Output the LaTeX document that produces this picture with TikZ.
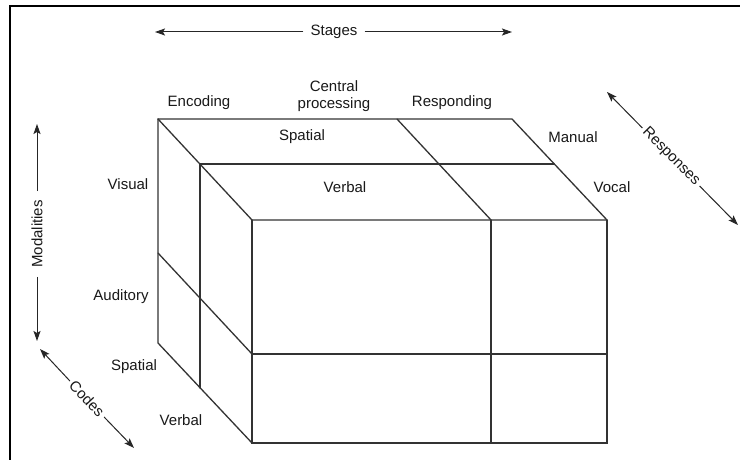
\documentclass[tikz,border=0pt]{standalone}
\usepackage{fontspec}
\setmainfont{Liberation Sans}
\usetikzlibrary{arrows.meta}
\begin{document}
\begin{tikzpicture}[x=1pt,y=-1pt,
  cube/.style={draw=black!80,line width=1.3pt,line cap=round},
  lbl/.style={text=black!90,font=\fontsize{15}{17}\selectfont,inner sep=0pt},
  axis/.style={text=black!90,font=\fontsize{15}{17}\selectfont,inner xsep=7pt,inner ysep=0pt},
  arr/.style={draw=black!85,line width=1pt,-{Stealth[length=10pt,width=7pt,inset=2pt]}},
  frame/.style={draw=black,line width=2pt}]
\useasboundingbox (0,0) rectangle (740,460);
\fill[white] (0,0) rectangle (740,460);
% frame
\coordinate (f1) at (10,460);
\coordinate (f2) at (10,6);
\coordinate (f3) at (741,6);
\draw[frame] (f1) -- (f2) -- (f3);
% cube corners
\coordinate (btl) at (158,119);
\coordinate (btm) at (397,119);
\coordinate (btr) at (512,119);
\coordinate (mtl) at (200,164);
\coordinate (mtr) at (554,164);
\coordinate (ftl) at (252,220);
\coordinate (ftm) at (491,220);
\coordinate (ftr) at (607,220);
\coordinate (bml) at (158,253);
\coordinate (bbl) at (158,343);
\coordinate (mbl) at (200,388);
\coordinate (fml) at (252,354);
\coordinate (fmr) at (607,354);
\coordinate (fbl) at (252,443);
\coordinate (fbm) at (491,443);
\coordinate (fbr) at (607,443);
% top face
\draw[cube] (btl) -- (btr) -- (ftr);
\draw[cube] (mtl) -- (mtr);
\draw[cube] (btl) -- (ftl) -- (ftr);
\draw[cube] (btm) -- (ftm);
% left face
\draw[cube] (btl) -- (bbl) -- (fbl);
\draw[cube] (mtl) -- (mbl);
\draw[cube] (bml) -- (fml);
% front face
\draw[cube] (ftl) -- (fbl) -- (fbr) -- (ftr);
\draw[cube] (fml) -- (fmr);
\draw[cube] (ftm) -- (fbm);
% labels
\node[lbl] (enc) at (199,103) {Encoding};
\node[lbl,align=center] (cen) at (334,96) {Central\\processing};
\node[lbl] (res) at (452,103) {Responding};
\node[lbl] (spT) at (302,137) {Spatial};
\node[lbl] (veT) at (345,187) {Verbal};
\node[lbl] (man) at (573,137) {Manual};
\node[lbl] (voc) at (612,187) {Vocal};
\node[lbl] (vis) at (128,184) {Visual};
\node[lbl] (aud) at (121,297) {Auditory};
\node[lbl] (spL) at (134,367) {Spatial};
\node[lbl] (veL) at (181,420) {Verbal};
% axes
\node[axis] (stg) at (334,32) {Stages};
\coordinate (sL) at (155,32);
\coordinate (sR) at (512,32);
\draw[arr] (stg.west) -- (sL);
\draw[arr] (stg.east) -- (sR);
\node[axis,rotate=90,inner xsep=9pt] (mod) at (37,234) {Modalities};
\coordinate (mT) at (37,124);
\coordinate (mB) at (37,341);
\draw[arr] (mod.east) -- (mT);
\draw[arr] (mod.west) -- (mB);
\node[axis,rotate=-46.5,inner xsep=3pt] (cod) at (87,399) {Codes};
\coordinate (cT) at (40,349);
\coordinate (cB) at (134,448);
\draw[arr] (cod.west) -- (cT);
\draw[arr] (cod.east) -- (cB);
\node[axis,rotate=-45.4,inner xsep=3pt] (rsp) at (671,157) {Responses};
\coordinate (rT) at (607,92);
\coordinate (rB) at (738,225);
\draw[arr] (rsp.west) -- (rT);
\draw[arr] (rsp.east) -- (rB);
\end{tikzpicture}
\end{document}
